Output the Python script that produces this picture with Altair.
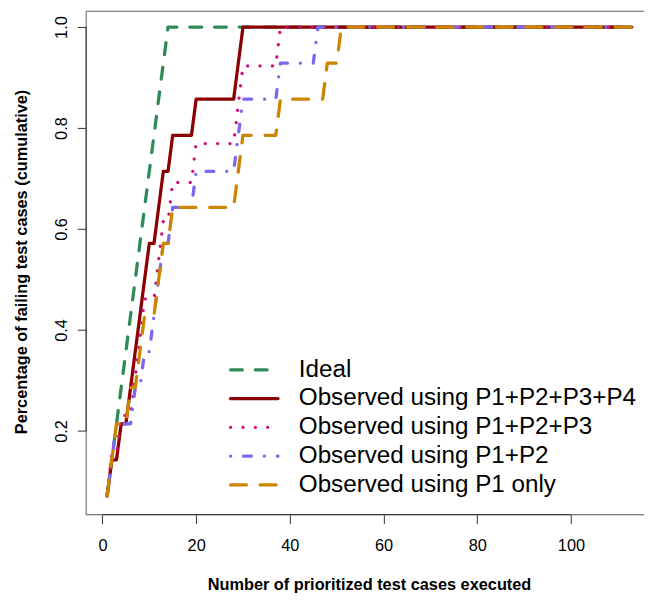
import altair as alt
import pandas as pd

# ---------------- data ----------------
N_TESTS = 113  # last prioritized test case on the x axis

series_names = [
    "Ideal",
    "Observed using P1+P2+P3+P4",
    "Observed using P1+P2+P3",
    "Observed using P1+P2",
    "Observed using P1 only",
]
# cumulative number of failing test cases found after executing x = 1, 2, 3, ...
ideal_counts = [1, 2, 3, 4, 5, 6, 7, 8, 9, 10, 11, 12, 13, 14]
p1234_counts = [1, 2, 2, 3, 3, 4, 5, 6, 7, 8, 8, 9, 10, 10, 11, 11, 11, 11, 11, 12,
                12, 12, 12, 12, 12, 12, 12, 12, 13, 14]
p123_counts = [1, 2, 2, 3, 3, 3, 4, 5, 6, 6, 6, 7, 8, 8, 9, 9, 9, 9, 9, 10,
               10, 10, 10, 10, 10, 10, 10, 10, 11, 12, 12, 12, 12, 12, 12, 12, 12, 13]
p12_counts = [1, 2, 3, 3, 3, 3, 4, 4, 5, 5, 6, 7, 8, 8, 9, 9, 9, 9, 9, 10,
              10, 10, 10, 10, 10, 10, 10, 10, 11, 12, 12, 12, 12, 12, 12, 12, 12, 13, 13, 13,
              13, 13, 13, 13, 13, 14]
p1_counts = [1, 2, 3, 3, 3, 4, 4, 5, 6, 6, 6, 7, 8, 8, 9, 9, 9, 9, 9, 9,
             9, 9, 9, 9, 9, 9, 9, 9, 10, 11, 11, 11, 11, 11, 11, 11, 11, 12, 12, 12,
             12, 12, 12, 12, 12, 12, 12, 13, 13, 13, 14]
denominators = [14, 14, 13, 14, 14]
all_counts = [ideal_counts, p1234_counts, p123_counts, p12_counts, p1_counts]

x_ticks = [0, 20, 40, 60, 80, 100]
y_ticks = [0.2, 0.4, 0.6, 0.8, 1.0]

# ---------------- styles ----------------
colors = ["#2E8B57", "#8B0000", "#CD1076", "#7B68EE", "#CD8500"]
dashes = [[12, 13], None, [0.1, 12.4], [0.1, 13, 8, 13], [16, 14]]
FONT = "Liberation Sans"
W, H = 564, 509
LW = 3.3

xscale = alt.Scale(domain=[-3.48, 115.6], nice=False, zero=False)
yscale = alt.Scale(domain=[0.0343, 1.0314], nice=False, zero=False)

xaxis = alt.Axis(values=x_ticks, domain=False, grid=False, tickSize=9, tickColor="#333",
                 labelFont=FONT, labelFontSize=16.5, labelColor="black", labelBaseline="middle",
                 labelPadding=22, labelFlush=False, labelOverlap=False,
                 title="Number of prioritized test cases executed", titleFont=FONT,
                 titleFontSize=16.5, titleFontWeight="bold", titleColor="black",
                 titleX=286, titleY=71, titleAlign="center", titleBaseline="middle")
yaxis = alt.Axis(values=y_ticks, format=".1f", domain=False, grid=False, tickSize=9,
                 tickColor="#333", labelFont=FONT, labelFontSize=16.5, labelColor="black",
                 labelAngle=270, labelAlign="center", labelBaseline="middle", labelPadding=16,
                 labelFlush=False, labelOverlap=False,
                 title="Percentage of failing test cases (cumulative)", titleFont=FONT,
                 titleFontSize=16.5, titleFontWeight="bold", titleColor="black",
                 titleAngle=270, titleX=-65, titleY=253, titleAlign="center",
                 titleBaseline="middle")

X = alt.X("x:Q", scale=xscale, axis=xaxis)
Y = alt.Y("y:Q", scale=yscale, axis=yaxis)

layers = []

# frame (box) -- top, left, bottom
frame = pd.DataFrame({"k": [0]})
layers.append(alt.Chart(frame).mark_rule(color="#666", strokeWidth=1).encode(
    x=alt.value(0), x2=alt.value(W), y=alt.value(0)))
layers.append(alt.Chart(frame).mark_rule(color="#666", strokeWidth=1).encode(
    x=alt.value(0), y=alt.value(0), y2=alt.value(H)))
layers.append(alt.Chart(frame).mark_rule(color="#666", strokeWidth=1).encode(
    x=alt.value(0), x2=alt.value(W), y=alt.value(H)))

# axis lines spanning first..last tick (R style)
xline = pd.DataFrame({"x": [x_ticks[0]], "x2": [x_ticks[-1]]})
layers.append(alt.Chart(xline).mark_rule(color="#333", strokeWidth=1).encode(
    x=X, x2="x2:Q", y=alt.value(H)))
yline = pd.DataFrame({"y": [y_ticks[0]], "y2": [y_ticks[-1]]})
layers.append(alt.Chart(yline).mark_rule(color="#333", strokeWidth=1).encode(
    y=Y, y2="y2:Q", x=alt.value(0)))

# data lines
for name, counts, den, col, dash in zip(series_names, all_counts, denominators, colors, dashes):
    xs = list(range(1, len(counts) + 1)) + [N_TESTS]
    ys = [c / den for c in counts] + [counts[-1] / den]
    df = pd.DataFrame({"x": xs, "y": ys, "series": name})
    kw = dict(color=col, strokeWidth=LW, strokeCap="round", strokeJoin="round", clip=True)
    if dash:
        kw["strokeDash"] = dash
    layers.append(alt.Chart(df).mark_line(**kw).encode(x=X, y=Y, order="x:Q"))

# legend
LEG_Y0, LEG_DY = 362.5, 29.1
for i, (name, col, dash) in enumerate(zip(series_names, colors, dashes)):
    ly = LEG_Y0 + i * LEG_DY
    kw = dict(color=col, strokeWidth=LW, strokeCap="round")
    if dash:
        kw["strokeDash"] = dash
    ldf = pd.DataFrame({"label": [name]})
    layers.append(alt.Chart(ldf).mark_rule(**kw).encode(
        x=alt.value(146), x2=alt.value(194), y=alt.value(ly)))
    layers.append(alt.Chart(ldf).mark_text(
        font=FONT, fontSize=24.5, align="left", baseline="middle", color="black").encode(
        x=alt.value(215), y=alt.value(ly), text="label:N"))

chart = alt.layer(*layers).properties(
    width=W, height=H,
    autosize=alt.AutoSizeParams(type="none"),
    padding={"left": 79, "top": 0, "right": 0, "bottom": 80},
).configure_view(stroke=None).configure(background="white")

chart.save("out.html", embed_options={"renderer": "svg", "actions": False})
